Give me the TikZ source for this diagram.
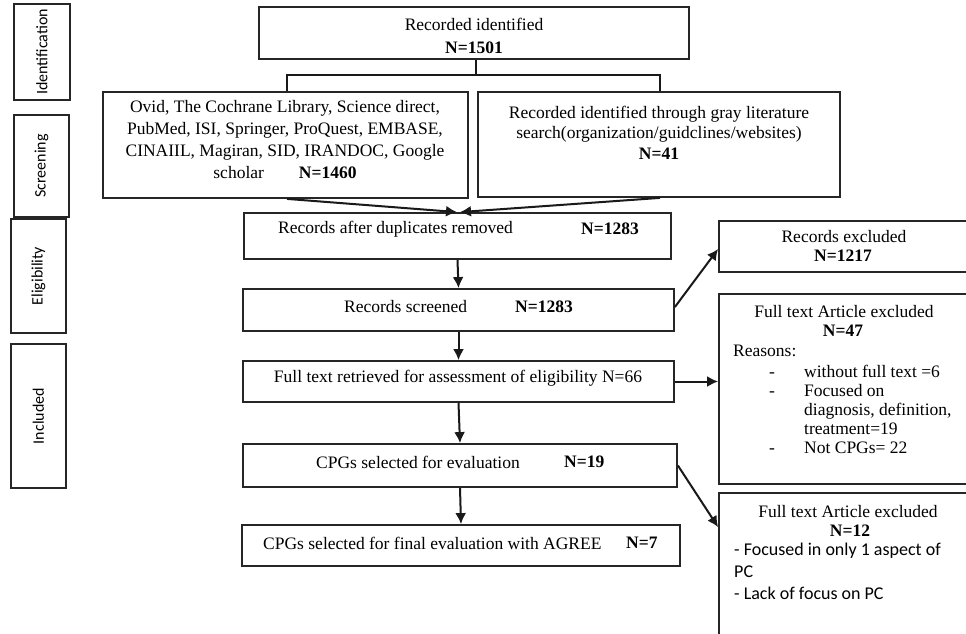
\documentclass[tikz,border=0pt]{standalone}
\usepackage{fontspec}
\setmainfont{Liberation Serif}
\newfontfamily\carlito{Carlito}
\usetikzlibrary{arrows.meta,calc}
\begin{document}
\begin{tikzpicture}[x=1pt,y=-1pt,
  box/.style={draw=black!85, line width=1.8pt, inner sep=0pt},
  sidebox/.style={draw=black!85, line width=1.8pt, inner sep=0pt},
  sidetxt/.style={inner sep=0pt, rotate=90, font=\carlito\fontsize{16}{18}\selectfont},
  txt/.style={inner sep=0pt, font=\fontsize{17.5}{20}\selectfont},
  ctxt/.style={inner sep=0pt, font=\carlito\fontsize{18}{21}\selectfont},
  conn/.style={line width=2pt, draw=black!90},
  arr/.style={line width=2pt, draw=black!90, -{Latex[length=11pt,width=11pt]}}]
\useasboundingbox (0,0) rectangle (966,634);
\fill[white] (0,0) rectangle (966,634);
\clip (0,0) rectangle (966,634);

% side stage boxes
\node[sidebox, minimum width=56pt, minimum height=96pt] (sid) at (42,52) {};
\node[sidetxt] (sidt) at (sid.center) {Identification};
\node[sidebox, minimum width=55pt, minimum height=102pt] (ssc) at (41.5,166) {};
\node[sidetxt] (ssct) at (ssc.center) {Screening};
\node[sidebox, minimum width=55pt, minimum height=114pt] (sel) at (38.5,276) {};
\node[sidetxt] (selt) at (sel.center) {Eligibility};
\node[sidebox, minimum width=55pt, minimum height=144pt] (sin) at (38.5,416) {};
\node[sidetxt] (sint) at (sin.center) {Included};

% main boxes
\node[box, minimum width=430pt, minimum height=52pt] (top) at (474,33) {};
\node[txt] (topa) at (474,24) {Recorded identified};
\node[txt] (topb) at (474,48) {\bfseries N=1501};

\node[box, minimum width=365pt, minimum height=106pt] (lbox) at (285.5,145) {};
\node[txt, align=center, font=\fontsize{17.5}{22.3}\selectfont] (lboxt) at (285,139.5)
  {Ovid,\ The Cochrane Library, Science direct,\\PubMed, ISI, Springer, ProQuest, EMBASE,\\CINAIIL, Magiran, SID, IRANDOC, Google\\scholar\hspace{35pt}\textbf{N=1460}};

\node[box, minimum width=362pt, minimum height=105pt] (rbox) at (659,144.5) {};
\node[txt, align=center, font=\fontsize{17.5}{20.5}\selectfont] (rboxt) at (659,132.5)
  {Recorded identified through gray literature\\search(organization/guidclines/websites)\\\textbf{N=41}};

\node[box, minimum width=427pt, minimum height=46pt] (dup) at (457.5,236) {};
\node[txt, anchor=west] (dupa) at (278,229) {Records after duplicates removed};
\node[txt, anchor=west] (dupb) at (581,229) {\bfseries N=1283};

\node[box, minimum width=431pt, minimum height=42pt] (scr) at (458.5,310) {};
\node[txt, anchor=west] (scra) at (344,307) {Records screened};
\node[txt, anchor=west] (scrb) at (515,307) {\bfseries N=1283};

\node[box, minimum width=431pt, minimum height=41pt] (ft) at (458.5,381.5) {};
\node[txt] (fta) at (458,378) {Full text retrieved for assessment of eligibility N=66};

\node[box, minimum width=434pt, minimum height=43pt] (cpg) at (460,465.5) {};
\node[txt, anchor=west] (cpga) at (316,462) {CPGs selected for evaluation};
\node[txt, anchor=west] (cpgb) at (564,462) {\bfseries N=19};

\node[box, minimum width=438pt, minimum height=41pt] (fin) at (461,545.5) {};
\node[txt, anchor=west] (fina) at (263,543) {CPGs selected for final evaluation with AGREE};
\node[txt, anchor=west] (finb) at (626,543) {\bfseries N=7};

% right boxes
\node[box, minimum width=250pt, minimum height=51pt] (rex) at (844,246.5) {};
\node[txt] (rexa) at (844,237) {Records excluded};
\node[txt] (rexb) at (843,256) {\bfseries N=1217};

\node[box, minimum width=250pt, minimum height=190pt] (fex) at (844,389) {};
\node[txt] (fexa) at (844,312) {Full text Article excluded};
\node[txt] (fexb) at (843,331) {\bfseries N=47};
\node[txt, anchor=base west] (fexc) at (733,356) {Reasons:};
\node[txt, anchor=base] (fexd1) at (772,377) {-};
\node[txt, anchor=base west] (fexe1) at (804,377) {without full text =6};
\node[txt, anchor=base] (fexd2) at (772,396) {-};
\node[txt, anchor=base west] (fexe2) at (804,396) {Focused on};
\node[txt, anchor=base west] (fexe3) at (804,415) {diagnosis, definition,};
\node[txt, anchor=base west] (fexe4) at (804,434) {treatment=19};
\node[txt, anchor=base] (fexd5) at (772,453) {-};
\node[txt, anchor=base west] (fexe5) at (804,453) {Not CPGs= 22};

\node[box, minimum width=250pt, minimum height=160pt] (fex2) at (844,573) {};
\node[txt] (fex2a) at (848,512) {Full text Article excluded};
\node[txt] (fex2b) at (850,531) {\bfseries N=12};
\node[ctxt, anchor=west] (fex2c) at (734,551) {- Focused in only 1 aspect of};
\node[ctxt, anchor=west] (fex2d) at (734,572) {PC};
\node[ctxt, anchor=west] (fex2e) at (734,593) {- Lack of focus on PC};

% connectors
\coordinate (j) at (476,75);
\coordinate (jl) at (287,75);
\coordinate (jr) at (660,75);
\draw[conn] (top.south -| j) -- (j);
\draw[conn] (lbox.north -| jl) -- (jl) -- (jr) -- (rbox.north -| jr);
\draw[arr] (lbox.south -| jl) -- ($(dup.north)+(-0.5,0)$);
\draw[arr] (rbox.south -| jr) -- ($(dup.north)+(2.5,0)$);
\draw[arr] (dup.south) -- (scr.north);
\draw[arr] (scr.south) -- (ft.north);
\draw[arr] (ft.south) -- (cpg.north);
\draw[arr] (cpg.south) -- (fin.north);
\draw[arr] ($(scr.east)+(0,-3)$) -- ($(rex.west)+(0,2.5)$);
\draw[arr] (ft.east) -- (ft.east -| fex.west);
\draw[arr] (cpg.east) -- ($(fex2.north west)+(0,35)$);
\end{tikzpicture}
\end{document}
